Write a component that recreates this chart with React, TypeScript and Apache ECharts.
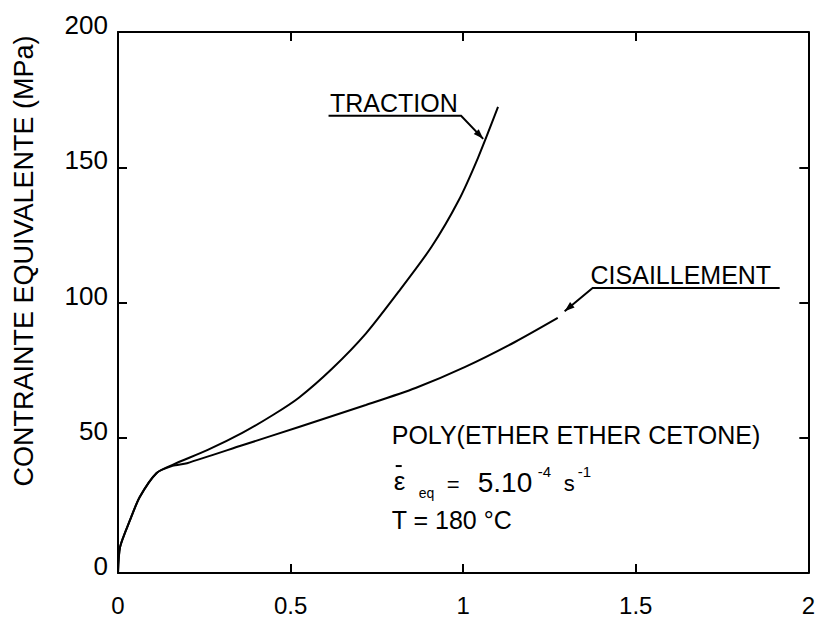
import React, { useEffect, useRef } from "react";
import * as echarts from "echarts";

// ---- data ----
const tractionStrain = [0, 0.006, 0.035, 0.063, 0.112, 0.158, 0.26, 0.36, 0.45, 0.524, 0.62, 0.718, 0.813, 0.908, 0.986, 1.043, 1.101];
const tractionStress = [0, 9.6, 19.6, 28.1, 37.0, 40.0, 45.5, 51.8, 58.5, 64.8, 75.5, 88.5, 104.0, 120.5, 137.5, 153.5, 172.3];
const shearStrain = [0, 0.006, 0.035, 0.063, 0.112, 0.158, 0.2, 0.36, 0.524, 0.718, 0.862, 1.006, 1.15, 1.274];
const shearStress = [0, 9.6, 19.6, 28.1, 37.0, 39.6, 40.6, 47.2, 54.0, 62.1, 68.4, 76.2, 85.4, 94.3];
const xTicks = [0, 0.5, 1, 1.5, 2];
const yTicks = [0, 50, 100, 150, 200];
const yTitle = "CONTRAINTE EQUIVALENTE (MPa)";
const tractionName = "TRACTION";
const shearName = "CISAILLEMENT";
const materialLine = "POLY(ETHER ETHER CETONE)";
const tempLine = "T = 180 °C";

// ---- annotation anchors (data coordinates) ----
const tractionText = [0.614, 173.8];
const tractionLeader = [[0.61, 169], [0.994, 169], [1.058, 160.5]];
const shearText = [1.369, 110.2];
const shearLeader = [[1.917, 105.4], [1.375, 105.4], [1.294, 96.8]];
const textBlock = [0.793, 51.0];

const FONT = "'Liberation Sans', Arial, sans-serif";

export default function App() {
  const ref = useRef<HTMLDivElement>(null);
  useEffect(() => {
    if (!ref.current) return;
    const chart = echarts.init(ref.current, undefined, { renderer: "svg" });
    const axisLine = { show: true, onZero: false, lineStyle: { color: "#000", width: 2 } };
    const tick = { show: true, inside: true, length: 9, lineStyle: { color: "#000", width: 2 } };
    chart.setOption({
      animation: false,
      backgroundColor: "#fff",
      grid: { left: 118, right: 6, top: 32, bottom: 46, containLabel: false },
      xAxis: [
        {
          type: "value", min: xTicks[0], max: xTicks[xTicks.length - 1], interval: 0.5,
          position: "bottom", axisLine, axisTick: tick, splitLine: { show: false },
          axisLabel: { color: "#000", fontFamily: FONT, fontSize: 24, margin: 20 },
        },
        {
          type: "value", min: xTicks[0], max: xTicks[xTicks.length - 1], interval: 0.5,
          position: "top", axisLine, axisTick: tick, splitLine: { show: false },
          axisLabel: { show: false },
        },
      ],
      yAxis: [
        {
          type: "value", min: yTicks[0], max: yTicks[yTicks.length - 1], interval: 50,
          position: "left", axisLine, axisTick: tick, splitLine: { show: false },
          axisLabel: {
            color: "#000", fontFamily: FONT, fontSize: 26, margin: 10,
            verticalAlign: "bottom", lineHeight: 14,
          },
        },
        {
          type: "value", min: yTicks[0], max: yTicks[yTicks.length - 1], interval: 50,
          position: "right", axisLine, axisTick: tick, splitLine: { show: false },
          axisLabel: { show: false },
        },
      ],
      series: [
        {
          name: tractionName, type: "line", smooth: 0.25, showSymbol: false,
          lineStyle: { color: "#000", width: 2 },
          data: tractionStrain.map((x, i) => [x, tractionStress[i]]),
        },
        {
          name: shearName, type: "line", smooth: 0.25, showSymbol: false,
          lineStyle: { color: "#000", width: 2 },
          data: shearStrain.map((x, i) => [x, shearStress[i]]),
        },
      ],
    });

    const px = (p: number[]) => chart.convertToPixel({ gridIndex: 0 }, p) as number[];
    const arrowHead = (from: number[], tip: number[]) => {
      const dx = tip[0] - from[0], dy = tip[1] - from[1];
      const len = Math.hypot(dx, dy) || 1;
      const ux = dx / len, uy = dy / len;
      const L = 10, W = 3.5;
      const bx = tip[0] - ux * L, by = tip[1] - uy * L;
      return [tip, [bx - uy * W, by + ux * W], [bx + uy * W, by - ux * W]];
    };
    const leader = (pts: number[][]) => {
      const pp = pts.map(px);
      return [
        { type: "polyline", shape: { points: pp }, style: { stroke: "#000", lineWidth: 2, fill: null } },
        { type: "polygon", shape: { points: arrowHead(pp[pp.length - 2], pp[pp.length - 1]) }, style: { fill: "#000" } },
      ];
    };
    const t = px(tractionText);
    const s = px(shearText);
    const b = px(textBlock);
    const txt = (text: string, x: number, y: number, size: number, extra: any = {}) => ({
      type: "text", x, y,
      style: { text, fill: "#000", font: `${size}px ${FONT}`, verticalAlign: "middle", align: "left", ...extra },
    });
    chart.setOption({
      graphic: [
        {
          type: "text", x: 24, y: 261, rotation: Math.PI / 2,
          style: { text: yTitle, fill: "#000", font: `27px ${FONT}`, align: "center", verticalAlign: "middle" },
        },
        txt(tractionName, t[0], t[1], 25),
        ...leader(tractionLeader),
        txt(shearName, s[0], s[1], 25),
        ...leader(shearLeader),
        txt(materialLine, b[0], b[1], 25),
        txt("ε", b[0] + 2, b[1] + 46, 26),
        { type: "rect", shape: { x: b[0] + 4, y: b[1] + 30, width: 6, height: 2 }, style: { fill: "#000" } },
        txt("eq", b[0] + 27, b[1] + 58, 14),
        txt("=", b[0] + 55, b[1] + 49, 22),
        txt("5.10", b[0] + 86, b[1] + 47, 28),
        txt("-4", b[0] + 146, b[1] + 36, 15),
        txt("s", b[0] + 172, b[1] + 48, 22),
        txt("-1", b[0] + 186, b[1] + 36, 15),
        txt(tempLine, b[0], b[1] + 85, 25),
      ],
    });
    return () => chart.dispose();
  }, []);
  return <div ref={ref} style={{ position: "fixed", left: 0, top: 0, width: 818, height: 619, background: "#fff" }} />;
}
